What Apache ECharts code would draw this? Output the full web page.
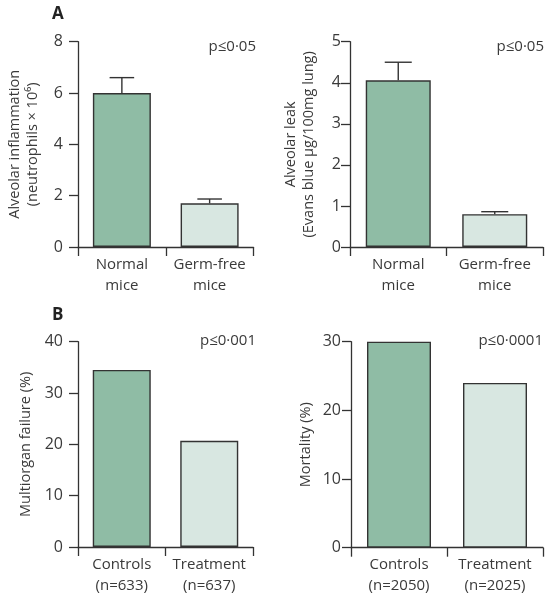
<!DOCTYPE html>
<html><head><meta charset="utf-8">
<script src="https://cdn.jsdelivr.net/npm/echarts@6/dist/echarts.min.js"></script>
<style>html,body{margin:0;padding:0;background:#fff}#c{width:553px;height:600px}</style>
</head><body><div id="c"></div>
<script>
// ---- data ----
const catsMice = ['Normal\nmice', 'Germ-free\nmice'];
const inflammation = [6.0, 1.7];
const inflammationErr = [6.6, 1.87];
const leak = [4.06, 0.8];
const leakErr = [4.5, 0.86];
const catsMOF = ['Controls\n(n=633)', 'Treatment\n(n=637)'];
const mof = [34.5, 20.7];
const catsMort = ['Controls\n(n=2050)', 'Treatment\n(n=2025)'];
const mortality = [30, 24];
const yTitles = ['Alveolar inflammation\n(neutrophils × 10⁶)', 'Alveolar leak\n(Evans blue µg/100mg lung)', 'Multiorgan failure (%)', 'Mortality (%)'];
const pLabels = ['p≤0·05', 'p≤0·05', 'p≤0·001', 'p≤0·0001'];
const yMax = [8, 5, 40, 30];
const yInterval = [2, 1, 10, 10];

// ---- style ----
const FONT = '"Open Sans", sans-serif';
const TXT = '#3a3a3a';
const AX = '#333';
const barColors = ['#8fbca5', '#d8e7e1'];

const grids = [
  {left: 78, top: 41.7, width: 175.5, height: 205.3},
  {left: 350, top: 41.7, width: 193, height: 205.3},
  {left: 78, top: 341.7, width: 175, height: 205.3},
  {left: 351, top: 341.7, width: 192, height: 206}
];
const labelMargins = [15, 9, 15, 10];
const nameGaps = [36, 32, 43, 36];
const barWidths = [58, 65, 58, 64];
const catsList = [catsMice, catsMice, catsMOF, catsMort];
const valuesList = [inflammation, leak, mof, mortality];
const errList = [inflammationErr, leakErr, null, null];

const xAxes = [], yAxes = [], series = [];
for (let i = 0; i < 4; i++) {
  xAxes.push({
    type: 'category', gridIndex: i, data: catsList[i], boundaryGap: true,
    axisLine: {show: true, lineStyle: {color: AX, width: 1.3}},
    axisTick: {show: true, length: 9, alignWithLabel: false, lineStyle: {color: AX, width: 1.3}},
    axisLabel: {color: TXT, fontFamily: FONT, fontSize: 15, lineHeight: 21, margin: 7, interval: 0}
  });
  yAxes.push({
    type: 'value', gridIndex: i, min: 0, max: yMax[i], interval: yInterval[i],
    splitLine: {show: false},
    axisLine: {show: true, lineStyle: {color: AX, width: 1.3}},
    axisTick: {show: true, length: 9, lineStyle: {color: AX, width: 1.3}},
    axisLabel: {color: TXT, fontFamily: FONT, fontSize: 16, margin: labelMargins[i]},
    name: yTitles[i], nameLocation: 'middle', nameRotate: 90, nameGap: nameGaps[i],
    nameTextStyle: {color: TXT, fontFamily: FONT, fontSize: 14.5, lineHeight: 18}
  });
  series.push({
    type: 'bar', xAxisIndex: i, yAxisIndex: i, barWidth: barWidths[i], z: 3,
    data: valuesList[i].map((v, k) => ({value: v, itemStyle: {color: barColors[k]}})),
    itemStyle: {borderColor: AX, borderWidth: 1.4}
  });
  if (errList[i]) {
    const d = valuesList[i].map((v, k) => [k, v, errList[i][k]]);
    series.push({
      type: 'custom', xAxisIndex: i, yAxisIndex: i, z: 2, data: d,
      renderItem: function (params, api) {
        const x = api.value(0), lo = api.value(1), hi = api.value(2);
        const p0 = api.coord([x, lo]);
        const p1 = api.coord([x, hi]);
        const w = api.size([1, 0])[0] * 0.28;
        const st = {stroke: AX, lineWidth: 1.4};
        return {type: 'group', children: [
          {type: 'line', shape: {x1: p0[0], y1: p0[1], x2: p1[0], y2: p1[1]}, style: st},
          {type: 'line', shape: {x1: p1[0] - w / 2, y1: p1[1], x2: p1[0] + w / 2, y2: p1[1]}, style: st}
        ]};
      }
    });
  }
}

const pPos = [[256, 47], [544, 47], [256, 341], [543, 341]];
const graphic = [
  {type: 'text', left: 52, top: 6, style: {text: 'A', fontFamily: FONT, fontWeight: 'bold', fontSize: 17, fill: '#222'}},
  {type: 'text', left: 52, top: 307, style: {text: 'B', fontFamily: FONT, fontWeight: 'bold', fontSize: 17, fill: '#222'}}
];
pLabels.forEach((t, i) => graphic.push({
  type: 'text', x: pPos[i][0], y: pPos[i][1],
  style: {text: t, fontFamily: FONT, fontSize: 15, fill: TXT, align: 'right', verticalAlign: 'middle'}
}));

const chart = echarts.init(document.getElementById('c'), null, {renderer: 'canvas'});
chart.setOption({
  animation: false,
  backgroundColor: '#fff',
  grid: grids,
  xAxis: xAxes,
  yAxis: yAxes,
  series: series,
  graphic: graphic
});
</script>
</body></html>
